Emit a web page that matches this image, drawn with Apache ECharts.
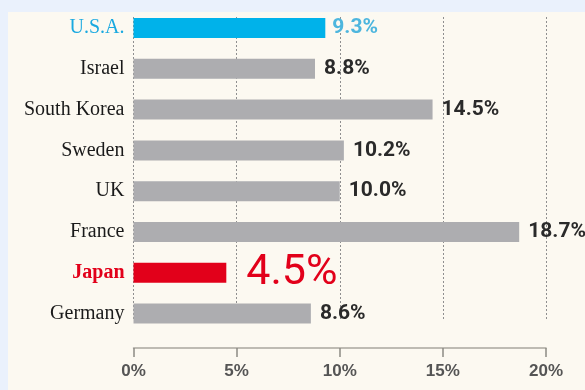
<!DOCTYPE html>
<html>
<head>
<meta charset="utf-8">
<script src="https://cdn.jsdelivr.net/npm/echarts@6/dist/echarts.min.js"></script>
<style>
  html, body { margin: 0; padding: 0; background: #eaf1fc; }
  #chart { width: 585px; height: 390px; }
</style>
</head>
<body>
<div id="chart"></div>
<script>
// Countries, top to bottom, and their rates (%)
const countries = ['U.S.A.', 'Israel', 'South Korea', 'Sweden', 'UK', 'France', 'Japan', 'Germany'];
const rates = [9.3, 8.8, 14.5, 10.2, 10.0, 18.7, 4.5, 8.6];
const axisTicks = [0, 5, 10, 15, 20];

const GRAY = '#adadb0';
const BLUE = '#00b2ea';
const RED = '#e2001a';
const numFont = "Roboto, 'DejaVu Sans', sans-serif";
const serif = "'Liberation Serif', 'DejaVu Serif', serif";

const highlight = {
  'U.S.A.': { bar: BLUE, label: { color: '#4db6de', distance: 7 } },
  'Japan': { bar: RED, label: { color: RED, fontSize: 43, fontWeight: 'normal', distance: 20 } }
};

const barData = countries.map((name, i) => {
  const h = highlight[name];
  return {
    value: rates[i],
    itemStyle: { color: h ? h.bar : GRAY },
    label: h ? h.label : {}
  };
});

const chart = echarts.init(document.getElementById('chart'), null, { renderer: 'canvas' });

chart.setOption({
  backgroundColor: '#eaf1fc',
  animation: false,
  graphic: [{
    type: 'rect', z: -10, silent: true,
    shape: { x: 8, y: 12, width: 577, height: 378 },
    style: { fill: '#fcf9f1' }
  }],
  grid: [
    // dotted reference lines
    { left: 133.5, right: 39, top: 17, bottom: 71 },
    // bars and axes
    { left: 133.5, right: 39, top: 7.6, bottom: 56 }
  ],
  xAxis: [
    {
      gridIndex: 0, type: 'value', min: 0, max: axisTicks[axisTicks.length - 1], interval: 5,
      axisLine: { show: false }, axisTick: { show: false }, axisLabel: { show: false },
      splitLine: { show: true, lineStyle: { color: '#8f8f8f', type: [2, 2], width: 1 } }
    },
    {
      gridIndex: 1, type: 'value', min: 0, max: axisTicks[axisTicks.length - 1], interval: 5,
      offset: 14,
      axisLine: { show: true, lineStyle: { color: '#a9a79f', width: 1.5 } },
      axisTick: { show: true, length: 9, lineStyle: { color: '#8c8a84', width: 1.5 } },
      splitLine: { show: false },
      axisLabel: {
        margin: 15,
        formatter: v => v + '%',
        color: '#555',
        fontSize: 17,
        fontWeight: 'bold',
        fontFamily: "'Liberation Sans', Arial, sans-serif"
      }
    }
  ],
  yAxis: [
    {
      gridIndex: 0, type: 'category', data: countries, inverse: true,
      axisLine: { show: false }, axisTick: { show: false }, axisLabel: { show: false }
    },
    {
      gridIndex: 1, type: 'category', data: countries, inverse: true,
      axisLine: { show: false }, axisTick: { show: false },
      axisLabel: {
        margin: 9,
        fontFamily: serif,
        fontSize: 20,
        color: '#1a1a1a',
        formatter: v => v === 'U.S.A.' ? '{usa|' + v + '}' : v === 'Japan' ? '{jp|' + v + '}' : v,
        rich: {
          usa: { color: '#1aa9e0', fontFamily: serif, fontSize: 20 },
          jp: { color: RED, fontFamily: serif, fontSize: 20, fontWeight: 'bold' }
        }
      }
    }
  ],
  series: [{
    type: 'bar',
    xAxisIndex: 1,
    yAxisIndex: 1,
    barWidth: 20,
    data: barData,
    label: {
      show: true,
      position: 'right',
      distance: 9,
      formatter: p => p.value.toFixed(1) + '%',
      fontFamily: numFont,
      fontSize: 21,
      fontWeight: 'bold',
      color: '#2a2a2a'
    }
  }]
});
</script>
</body>
</html>
